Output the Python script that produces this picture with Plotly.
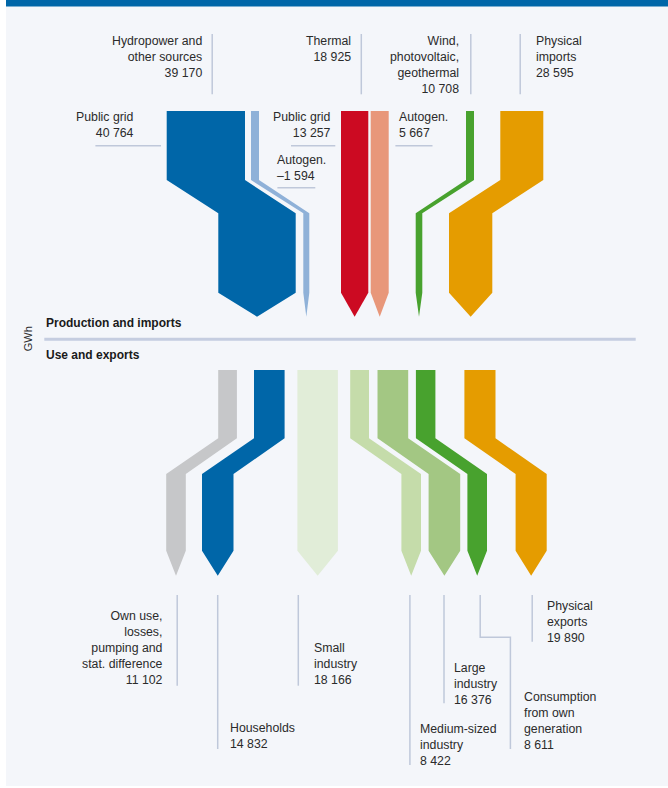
import plotly.graph_objects as go

# ---------------- data ----------------
source_names = ["Hydropower and<br>other sources", "Thermal", "Wind,<br>photovoltaic,<br>geothermal", "Physical<br>imports"]
source_totals = [39170, 18925, 10708, 28595]

prod_names = ["Public grid", "Autogen.", "Public grid", "Autogen."]
prod_values = [40764, -1594, 13257, 5667]

use_names = ["Own use,<br>losses,<br>pumping and<br>stat. difference", "Households", "Small<br>industry",
             "Medium-sized<br>industry", "Large<br>industry", "Consumption<br>from own<br>generation",
             "Physical<br>exports"]
use_values = [11102, 14832, 18166, 8422, 16376, 8611, 19890]

# ---------------- styles / layout ----------------
W, H = 668, 788
FONT = "Liberation Sans, Arial, sans-serif"
TXT = "#2b2b2b"
LEAD = "#bfc8da"

prod_colors = ["#0066a8", "#8fb1d8", "#cc0a22", "#e8977a", "#48a22e", "#e59c00"]
# arrow geometry: (x_top_left, w_top, x_bottom_left, w_bottom)
prod_geom = [(166.7, 78.3, 218.3, 77.4), (251, 8, 303.3, 6), (341, 27.3, 341, 27.3),
             (370.7, 18, 370.7, 18), (466, 8, 415.7, 6.6), (500.3, 43, 449, 43.3)]
prod_y = (111, 180, 213.3, 292.7, 316.7)

use_colors = ["#c6c7c9", "#0066a8", "#e1edd8", "#c5dcaa", "#a3c783", "#48a22e", "#e59c00"]
use_geom = [(218.2, 18.7, 166.2, 19.6), (254, 30.6, 202, 31.5), (297.4, 40.5, 297.4, 40.5),
            (350.2, 18.8, 401.4, 19.6), (377.5, 30.7, 428.6, 31.6), (415.9, 19.5, 467.4, 19.6),
            (464.4, 31.1, 515.6, 31.1)]
use_y = (370, 438.3, 474, 550.7, 575.7)


def fmt(v):
    s = f"{abs(v):,}".replace(",", " ")
    return ("\u2013" if v < 0 else "") + s


def arrow(g, ys):
    xt, wt, xb, wb = g
    y0, y1, y2, y3, y4 = ys
    xs = [xt, xt + wt, xt + wt, xb + wb, xb + wb, xb + wb / 2, xb, xb, xt, xt]
    yy = [y0, y0, y1, y2, y3, y4, y3, y2, y1, y0]
    return xs, yy


fig = go.Figure()
for g, c in zip(prod_geom, prod_colors):
    xs, yy = arrow(g, prod_y)
    fig.add_trace(go.Scatter(x=xs, y=yy, fill="toself", fillcolor=c, mode="none",
                             hoverinfo="skip", showlegend=False))
for g, c in zip(use_geom, use_colors):
    xs, yy = arrow(g, use_y)
    fig.add_trace(go.Scatter(x=xs, y=yy, fill="toself", fillcolor=c, mode="none",
                             hoverinfo="skip", showlegend=False))

shapes = [
    dict(type="rect", x0=6, x1=W, y0=6, y1=786, fillcolor="#f4f6fa", line_width=0, layer="below"),
    dict(type="rect", x0=6, x1=W, y0=0, y1=6.5, fillcolor="#0066a8", line_width=0, layer="below"),
    dict(type="line", x0=44.3, x1=635.7, y0=339.3, y1=339.3, line=dict(color="#c5cde0", width=3)),
]


def vline(x, y0, y1):
    shapes.append(dict(type="line", x0=x, x1=x, y0=y0, y1=y1, line=dict(color=LEAD, width=1.5)))


def hline(y, x0, x1):
    shapes.append(dict(type="line", x0=x0, x1=x1, y0=y, y1=y, line=dict(color=LEAD, width=1.5)))


annotations = []


def label(text, x, yc, anchor):
    annotations.append(dict(x=x, y=yc, text=text, showarrow=False, xanchor=anchor, yanchor="middle",
                            align=anchor, borderpad=0, font=dict(family=FONT, size=12.3, color=TXT)))


# top source labels
src_pos = [(202.8, 56.7, "right", 212.2), (352, 48.7, "right", 361.3),
           (460, 64.7, "right", 470.8), (534.7, 56.7, "left", 520.2)]
for n, v, (x, yc, a, lx) in zip(source_names, source_totals, src_pos):
    label(f"{n}<br>{fmt(v)}", x, yc, a)
    vline(lx, 34, 94.3)

# public grid / autogen labels
prod_pos = [(134.6, 124.7, "right", 145.7, 95.4, 161), (276, 167.7, "left", 187.7, 277.4, 315.3),
            (332.3, 124.7, "right", 145.7, 291, 335.3), (397.5, 124.7, "left", 145.7, 395.4, 432.5)]
for n, v, (x, yc, a, ly, lx0, lx1) in zip(prod_names, prod_values, prod_pos):
    label(f"{n}<br>{fmt(v)}", x, yc, a)
    hline(ly, lx0, lx1)

# bottom use labels
use_pos = [(164, 647.7, "right", 177.2, 685.7), (228.8, 735.7, "left", 217.7, 749),
           (313.2, 664.3, "left", 298.3, 685.7), (418.8, 744.7, "left", 409.9, 765),
           (453.3, 684, "left", 444, 703.3), (522.8, 721.3, "left", None, None),
           (545.8, 622, "left", 532.2, 641.7)]
for n, v, (x, yc, a, lx, ly1) in zip(use_names, use_values, use_pos):
    label(f"{n}<br>{fmt(v)}", x, yc, a)
    if lx is not None:
        vline(lx, 595, ly1)
shapes.append(dict(type="path", path="M 480.2 595 L 480.2 637.3 L 510.4 637.3 L 510.4 749",
                   line=dict(color=LEAD, width=1.5)))

# section titles
for t, y in [("<b>Production and imports</b>", 322.7), ("<b>Use and exports</b>", 355)]:
    annotations.append(dict(x=44.7, y=y, text=t, showarrow=False, xanchor="left", yanchor="middle",
                            borderpad=0, font=dict(family=FONT, size=12, color="#1a1a1a")))
annotations.append(dict(x=28.3, y=339, text="GWh", textangle=-90, showarrow=False, xanchor="center",
                        yanchor="middle", borderpad=0, font=dict(family=FONT, size=11, color=TXT)))

fig.update_layout(
    width=W, height=H, margin=dict(l=0, r=0, t=0, b=0),
    paper_bgcolor="white", plot_bgcolor="white",
    xaxis=dict(range=[0, W], visible=False, fixedrange=True),
    yaxis=dict(range=[H, 0], visible=False, fixedrange=True),
    shapes=shapes, annotations=annotations,
)
fig.write_html("out.html", config={"displayModeBar": False},
               post_script="document.body.style.margin='0';document.body.style.overflow='hidden';")
